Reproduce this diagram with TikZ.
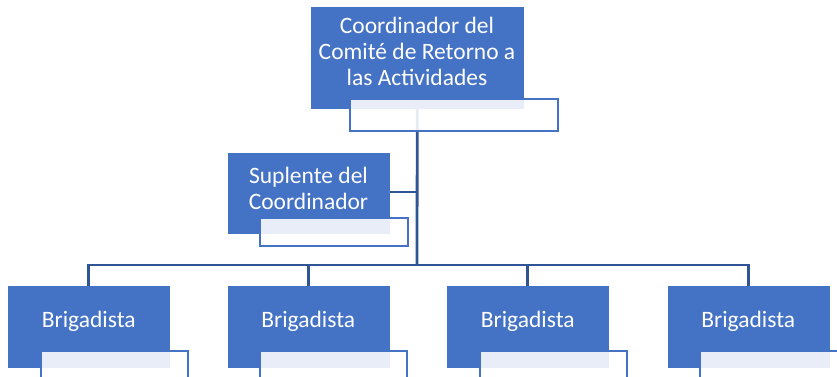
\documentclass[tikz,border=0pt]{standalone}
\usepackage{fontspec}
\setmainfont{Carlito}
\definecolor{boxblue}{HTML}{4472C4}
\definecolor{connblue}{HTML}{2F5597}
\pgfdeclarelayer{bg}
\pgfsetlayers{bg,main}
\begin{document}
\begin{tikzpicture}[x=1pt,y=-1pt,
  bluebox/.style={fill=boxblue, draw=boxblue, line width=0.5pt, inner sep=0pt, anchor=north west},
  whitebox/.style={fill=white, fill opacity=0.88, draw=boxblue, line width=2.4pt, inner sep=0pt, anchor=north west},
  conn/.style={draw=connblue, line width=2.8pt},
  lbl/.style={text=white, font=\fontsize{23.5}{26}\selectfont, align=center, inner sep=0pt}]
\useasboundingbox (0,0) rectangle (837,377);
\clip (0,0) rectangle (837,377);
% top
\node[bluebox, minimum width=212pt, minimum height=101pt] (top) at (311,7) {};
\node[lbl] (toptext) at (417,51) {Coordinador del\\Comité de Retorno a\\las Actividades};
\node[whitebox, minimum width=208pt, minimum height=32pt] (topw) at (349,98) {};
% suplente
\node[bluebox, minimum width=161pt, minimum height=80pt] (sup) at (228,153) {};
\node[lbl] (suptext) at (308.5,188) {Suplente del\\Coordinador};
\node[whitebox, minimum width=148pt, minimum height=28pt] (supw) at (259,217) {};
% brigadistas
\foreach \i/\x in {1/8,2/227.5,3/447,4/667.5}{
  \node[bluebox, minimum width=161pt, minimum height=81pt] (b\i) at (\x,286) {};
  \node[lbl] (b\i text) at (b\i.center |- 0,321) {Brigadista};
  \node[whitebox, minimum width=147pt, minimum height=36pt] (b\i w) at (\x+31.5,350) {};
}
\coordinate (bus) at (417,265);
\begin{pgfonlayer}{bg}
\draw[conn] (top.south) -- (bus);
\draw[conn] (sup.east |- 0,192) -- (bus |- 0,192);
\draw[conn] (b1.north) |- (bus) -| (b4.north);
\draw[conn] (b2.north) -- (b2.north |- bus);
\draw[conn] (b3.north) -- (b3.north |- bus);
\end{pgfonlayer}
\end{tikzpicture}
\end{document}
